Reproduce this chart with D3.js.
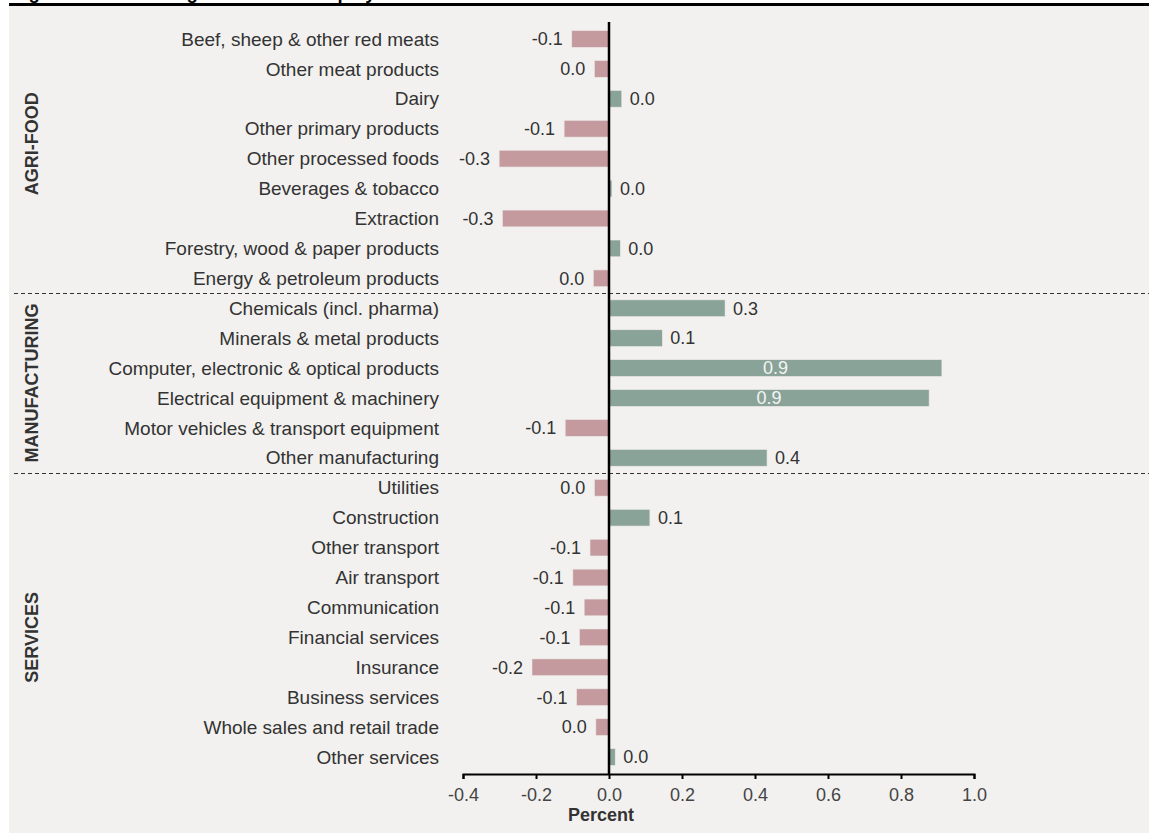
<!DOCTYPE html>
<html>
<head>
<meta charset="utf-8">
<script src="https://cdn.jsdelivr.net/npm/d3@7"></script>
<style>
  html, body { margin: 0; padding: 0; background: #ffffff; }
  svg { display: block; font-family: "Liberation Sans", Arial, sans-serif; }
</style>
</head>
<body>
<svg id="chart" width="1149" height="834"></svg>
<script>
// Sectors, top to bottom
const categories = [
  "Beef, sheep & other red meats",
  "Other meat products",
  "Dairy",
  "Other primary products",
  "Other processed foods",
  "Beverages & tobacco",
  "Extraction",
  "Forestry, wood & paper products",
  "Energy & petroleum products",
  "Chemicals (incl. pharma)",
  "Minerals & metal products",
  "Computer, electronic & optical products",
  "Electrical equipment & machinery",
  "Motor vehicles & transport equipment",
  "Other manufacturing",
  "Utilities",
  "Construction",
  "Other transport",
  "Air transport",
  "Communication",
  "Financial services",
  "Insurance",
  "Business services",
  "Whole sales and retail trade",
  "Other services"
];

// Change in employment, percent
const values = [
  -0.102, -0.040, 0.035, -0.123, -0.301, 0.008, -0.292, 0.031, -0.043,
  0.318, 0.146, 0.912, 0.877, -0.120, 0.433,
  -0.040, 0.112, -0.052, -0.099, -0.068, -0.081, -0.211, -0.089, -0.036, 0.017
];

// Sector groups: label, first and last category index
const groupNames = ["AGRI-FOOD", "MANUFACTURING", "SERVICES"];
const groupStarts = [0, 9, 15];
const groupEnds = [8, 14, 24];

const xTicks = [-0.4, -0.2, 0.0, 0.2, 0.4, 0.6, 0.8, 1.0];
const xTitle = "Percent";
const titleText = "Figure 4: Total change in sectoral employment";

const W = 1149, H = 834;
const svg = d3.select("#chart");

const NEG = "#c49a9e", POS = "#8aa398", INK = "#333333";

// Panel background and top rule
svg.append("rect").attr("x", 9).attr("y", 6).attr("width", W - 9).attr("height", 827)
  .attr("fill", "#f2f1ef");
svg.append("text").attr("x", 12).attr("y", -1)
  .attr("font-size", 18.5).attr("font-weight", "bold").attr("fill", "#000")
  .text(titleText);
svg.append("line").attr("x1", 9).attr("x2", W).attr("y1", 4.5).attr("y2", 4.5)
  .attr("stroke", "#000").attr("stroke-width", 3);

const x = d3.scaleLinear().domain([-0.4, 1.0]).range([463, 974]);
const y = d3.scaleBand().domain(categories).range([24, 772])
  .paddingInner(0.44).paddingOuter(0.22);
const rowCenter = i => y(categories[i]) + y.bandwidth() / 2;
const step = y.step();

const data = categories.map((c, i) => ({ c, v: values[i] }));

// Plain hyphen for negatives
const fmt1 = d3.format(".1f");
const hy = v => fmt1(v).replace("\u2212", "-");

// Group separators
for (let g = 1; g < groupStarts.length; g++) {
  const yy = Math.round(rowCenter(groupStarts[g]) - step / 2) + 0.5;
  svg.append("line").attr("x1", 14).attr("x2", W).attr("y1", yy).attr("y2", yy)
    .attr("stroke", "#333").attr("stroke-width", 1).attr("stroke-dasharray", "4,3");
}

// Bars
svg.append("g").selectAll("rect").data(data).join("rect")
  .attr("x", d => x(Math.min(0, d.v)))
  .attr("y", d => y(d.c))
  .attr("width", d => Math.max(1.5, Math.abs(x(d.v) - x(0))))
  .attr("height", y.bandwidth())
  .attr("fill", d => d.v < 0 ? NEG : POS)
  .attr("stroke", "#ece8e6").attr("stroke-width", 0.6);

// Category labels
svg.append("g").selectAll("text").data(data).join("text")
  .attr("x", 439).attr("y", d => y(d.c) + y.bandwidth() / 2)
  .attr("dy", "0.35em").attr("text-anchor", "end")
  .attr("font-size", 19).attr("fill", INK)
  .text(d => d.c);

// Value labels
svg.append("g").selectAll("text").data(data).join("text")
  .attr("x", d => {
    if (d.v > 0.6) return (x(0) + x(d.v)) / 2;
    return d.v < 0 ? x(d.v) - 9 : x(d.v) + 8;
  })
  .attr("y", d => y(d.c) + y.bandwidth() / 2)
  .attr("dy", "0.35em")
  .attr("text-anchor", d => d.v > 0.6 ? "middle" : (d.v < 0 ? "end" : "start"))
  .attr("font-size", 18)
  .attr("fill", d => d.v > 0.6 ? "#f4f4f4" : INK)
  .text(d => {
    const s = fmt1(Math.abs(d.v));
    return (d.v < 0 && s !== "0.0") ? "-" + s : s;
  });

// Zero line
svg.append("line").attr("x1", x(0)).attr("x2", x(0)).attr("y1", 22).attr("y2", 774)
  .attr("stroke", "#000").attr("stroke-width", 2.5);

// X axis
const axis = svg.append("g").attr("transform", "translate(0,774)")
  .call(d3.axisBottom(x).tickValues(xTicks).tickFormat(hy)
    .tickSizeInner(5).tickSizeOuter(5).tickPadding(9));
axis.select(".domain").attr("stroke", "#000").attr("stroke-width", 2);
axis.selectAll(".tick line").attr("stroke", "#000").attr("stroke-width", 2);
axis.selectAll(".tick text").attr("font-size", 18).attr("fill", "#444")
  .attr("font-family", "Liberation Sans, Arial, sans-serif");

svg.append("text").attr("x", 601).attr("y", 821).attr("text-anchor", "middle")
  .attr("font-size", 18).attr("font-weight", "bold").attr("fill", INK)
  .text(xTitle);

// Group labels, rotated
const groupAnchor = [3.5, 11.5, 20];
groupNames.forEach((name, g) => {
  const i0 = Math.floor(groupAnchor[g]);
  const yy = rowCenter(i0) + (groupAnchor[g] - i0) * step;
  svg.append("text")
    .attr("transform", `translate(38,${yy}) rotate(-90)`)
    .attr("text-anchor", "middle")
    .attr("font-size", 18).attr("font-weight", "bold").attr("fill", INK)
    .text(name);
});
</script>
</body>
</html>
